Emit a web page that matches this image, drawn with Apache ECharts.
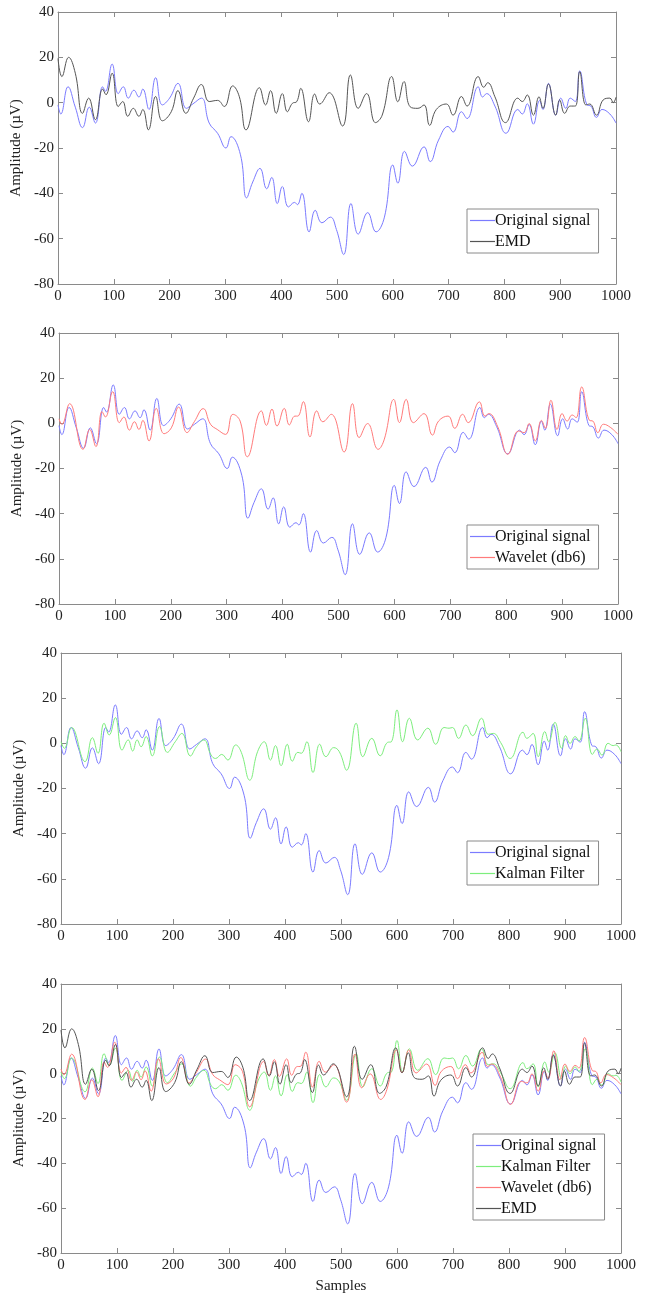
<!DOCTYPE html>
<html>
<head>
<meta charset="utf-8">
<script src="https://cdn.jsdelivr.net/npm/echarts@6/dist/echarts.min.js"></script>
<style>
html,body{margin:0;padding:0;background:#fff;}
#chart{width:651px;height:1295px;}
</style>
</head>
<body>
<div id="chart"></div>
<script>
// ---- data ----
var origX = [0,5,18,31,44,56,67,80,85,97,108,117,126,136,145,152,163,175,187,200,215,230,242,257,271,286,301,310,327,338,349,362,374,383,393,402,413,424,429,437,450,461,473,488,499,512,525,538,555,570,585,600,609,621,635,656,667,682,699,708,723,733,753,761,768,783,803,824,832,841,852,863,869,879,892,901,910,918,927,935,948,955,965,975,989,1000];
var origY = [-1,-5,7,-2,-11,-2,-9,7,5,17,4,7,2,5.5,2.5,6,-3,11,-1,2,8.5,-2.5,-0.5,2,-9,-13.5,-20,-15,-23,-42,-35,-29,-38,-33,-44.5,-37,-46,-44,-45,-40,-57,-47.5,-53,-50.5,-56,-67,-44.5,-58,-48.5,-57,-50.5,-27.5,-35.5,-21.5,-28,-19.5,-26,-16.5,-10.5,-13,-4,-7,7,2.5,4,-1.5,-13.5,-3,-5,-0.5,-9.5,1,-3,8.5,-5.5,2,-2.5,2,0.5,14,-1,-1.5,-6.5,-3,-5,-9];

var emdX = [0,7,19,31,44,55,67,80,86,97,108,116,125,135,145,152,162,175,187,203,215,229,243,257,271,286,298,313,325,337,361,372,381,391,402,411,420,428,435,449,460,469,486,510,524,538,553,569,581,598,609,620,631,645,656,666,678,696,708,723,733,753,763,770,783,802,824,832,841,852,862,869,879,892,899,908,918,927,935,946,953,965,977,989,995,1000];
var emdY = [19.5,11.5,20,13,-4.7,2,-7.5,6,3.5,13,-1.7,0.5,-6,-2.5,-6,-3,-12,2.7,-8,-4,5.3,-4.7,2,8,0.5,1,-1.7,7.4,2.6,-12,6.6,-1,5.3,-4.7,4,-4,-0.3,0.5,6.3,-8.4,3.8,-0.6,4.4,-10.3,12.2,-2.5,4,-8.8,-5.5,11.5,0.4,9.3,-1.8,-2.5,-1,-10,-3,-0.6,-5.5,2.7,-1.5,11.5,6.8,8.8,2.6,-8.8,2,0.5,3.4,-5.5,2.6,-2.5,8.2,-5.5,1.2,-4.7,-1.5,-1.5,13.7,-1,-0.6,-5.5,1.2,2,0,2.4];

var wavX = [0,5,19,43,55,66,77,83,96,108,116,126,135,143,150,161,174,188,201,214,229,242,258,271,283,298,311,324,337,362,371,381,390,403,412,422,427,437,449,461,472,487,510,525,537,552,571,582,599,609,621,634,653,668,679,696,708,722,732,752,762,769,785,803,822,832,841,852,863,870,880,891,900,909,918,925,935,949,955,964,974,987,1000];
var wavY = [2,-0.5,8.7,-11.5,-2.7,-10.3,5.2,2.8,14,0.3,2.8,-3,0.7,-2.7,1.3,-7.8,6.6,-4.6,-2,7.2,-4.1,0.7,6.5,-0.4,-2.7,-4.9,4,1,-14.8,5.5,-0.9,6.3,-1.2,6.6,-0.7,3.2,3.2,9.6,-6,5.5,0.7,4,-12.7,8.7,-6.3,-0.1,-11.5,-7,10.6,0.3,10.6,0.3,4.3,-5.2,1,3.2,-2.2,4,0.3,9.5,3.2,4.3,-1.6,-13.7,-3.4,-4.1,-0.1,-7.8,1.3,-2.2,10.2,-2.7,4.3,1,3.7,2.5,16.1,1.3,1,-4.1,-0.4,-1.9,-4.9];

var kalX = [0,6,19,43,56,66,77,86,97,109,120,128,136,143,152,163,176,190,204,216,231,242,255,268,276,287,298,312,322,337,351,363,374,383,393,404,413,423,429,439,450,462,473,487,497,510,527,539,555,570,583,590,600,610,622,637,655,669,684,693,699,710,723,735,751,763,772,785,802,825,832,843,852,864,871,882,894,901,909,918,925,936,949,957,966,977,986,991,1000];
var kalY = [0.7,-2.2,7,-8.1,2.5,-4.4,8.9,3.7,11.4,-3,1.5,-3.4,1.5,-1.5,3,-5.6,7.4,-4,0.7,4.4,-5.6,-1.5,1.5,-5.2,-6.7,-4.9,-7.4,-0.7,-4,-16.3,-3.7,0.7,-7.4,-1,-9.9,-0.4,-7.9,-4,-4.4,0.7,-12.9,-0.4,-5.9,-1.9,-3.7,-11.9,8.9,-5.9,2.2,-5.5,0.4,0.7,14.8,0.7,11.1,1.5,6.7,-0.4,7,6.7,7,2.2,8.1,3.4,11.1,4,4.4,0.4,-6.7,4.9,2.2,4.4,-5.9,5.2,0.7,9.3,-2.2,3.4,0,3,1,11.1,-4.9,-2.5,-5.2,0,-1,-0.7,-3.7];

var xTicks = {min: 0, max: 1000, interval: 100};
var yTicks = {min: -80, max: 40, interval: 20};
var names = {orig: 'Original signal', emd: 'EMD', wav: 'Wavelet (db6)', kal: 'Kalman Filter'};

// ---- styling / layout ----
var colors = {orig: '#7b7bff', emd: '#555555', wav: '#ff7b7b', kal: '#7dee7d'};
var FONT = '"Liberation Serif","Times New Roman",serif';
var grids = [
  {left: 58, top: 12, width: 558, height: 272},
  {left: 59, top: 333, width: 559, height: 271},
  {left: 61, top: 653, width: 560, height: 271},
  {left: 61, top: 984, width: 560, height: 270}
];
var panelSeries = [
  ['orig', 'emd'],
  ['orig', 'wav'],
  ['orig', 'kal'],
  ['orig', 'kal', 'wav', 'emd']
];
var legendPos = [
  {left: 467, top: 209},
  {left: 467, top: 525},
  {left: 467, top: 841},
  {left: 473, top: 1134}
];

function pairs(xs, ys) {
  var out = [];
  for (var i = 0; i < xs.length; i++) out.push([xs[i], ys[i]]);
  return out;
}
var dataMap = {
  orig: pairs(origX, origY),
  emd: pairs(emdX, emdY),
  wav: pairs(wavX, wavY),
  kal: pairs(kalX, kalY)
};

var axisGray = '#8a8a8a';
var labelStyle = {color: '#222', fontFamily: FONT, fontSize: 15};

var option = {
  backgroundColor: '#fff',
  animation: false,
  grid: grids.map(function (g) { return Object.assign({containLabel: false}, g); }),
  xAxis: [], yAxis: [], series: [], legend: []
};

grids.forEach(function (g, i) {
  option.xAxis.push({
    type: 'value', gridIndex: i, position: 'bottom',
    min: xTicks.min, max: xTicks.max, interval: xTicks.interval,
    axisLine: {show: true, onZero: false, lineStyle: {color: axisGray, width: 1}},
    axisTick: {show: true, inside: true, length: 5, lineStyle: {color: axisGray}},
    axisLabel: Object.assign({margin: 5, formatter: function (v) { return String(v); }}, labelStyle),
    splitLine: {show: false},
    name: i === 3 ? 'Samples' : '', nameLocation: 'middle', nameGap: 26,
    nameTextStyle: {color: '#222', fontFamily: FONT, fontSize: 15}
  });
  option.xAxis.push({
    type: 'value', gridIndex: i, position: 'top',
    min: xTicks.min, max: xTicks.max, interval: xTicks.interval,
    axisLine: {show: true, onZero: false, lineStyle: {color: axisGray, width: 1}},
    axisTick: {show: true, inside: true, length: 5, lineStyle: {color: axisGray}},
    axisLabel: {show: false}, splitLine: {show: false}
  });
  option.yAxis.push({
    type: 'value', gridIndex: i, position: 'left',
    min: yTicks.min, max: yTicks.max, interval: yTicks.interval,
    axisLine: {show: true, onZero: false, lineStyle: {color: axisGray, width: 1}},
    axisTick: {show: true, inside: true, length: 5, lineStyle: {color: axisGray}},
    axisLabel: Object.assign({margin: 4}, labelStyle),
    splitLine: {show: false},
    name: 'Amplitude (\u00B5V)', nameLocation: 'middle', nameGap: 28, nameRotate: 90,
    nameTextStyle: {color: '#222', fontFamily: FONT, fontSize: 15}
  });
  option.yAxis.push({
    type: 'value', gridIndex: i, position: 'right',
    min: yTicks.min, max: yTicks.max, interval: yTicks.interval,
    axisLine: {show: true, onZero: false, lineStyle: {color: axisGray, width: 1}},
    axisTick: {show: true, inside: true, length: 5, lineStyle: {color: axisGray}},
    axisLabel: {show: false}, splitLine: {show: false}
  });

  var legendNames = [];
  panelSeries[i].forEach(function (key) {
    legendNames.push(names[key]);
    option.series.push({
      type: 'line', name: names[key],
      xAxisIndex: i * 2, yAxisIndex: i * 2,
      data: dataMap[key], smooth: 0.45, symbol: 'none',
      lineStyle: {color: colors[key], width: 1},
      itemStyle: {color: colors[key]},
      emphasis: {disabled: true}
    });
  });
  option.legend.push({
    data: legendNames.map(function (n) { return {name: n, icon: 'rect'}; }),
    orient: 'vertical',
    left: legendPos[i].left, top: legendPos[i].top,
    backgroundColor: '#fff', borderColor: '#8a8a8a', borderWidth: 1,
    padding: [3, 8, 3, 3], itemGap: 4, itemWidth: 25, itemHeight: 1.2,
    selectedMode: false,
    textStyle: {color: '#111', fontFamily: FONT, fontSize: 16, lineHeight: 17, padding: [0, 0, 0, -5]}
  });
});

var chart = echarts.init(document.getElementById('chart'), null, {renderer: 'canvas'});
chart.setOption(option);
</script>
</body>
</html>
